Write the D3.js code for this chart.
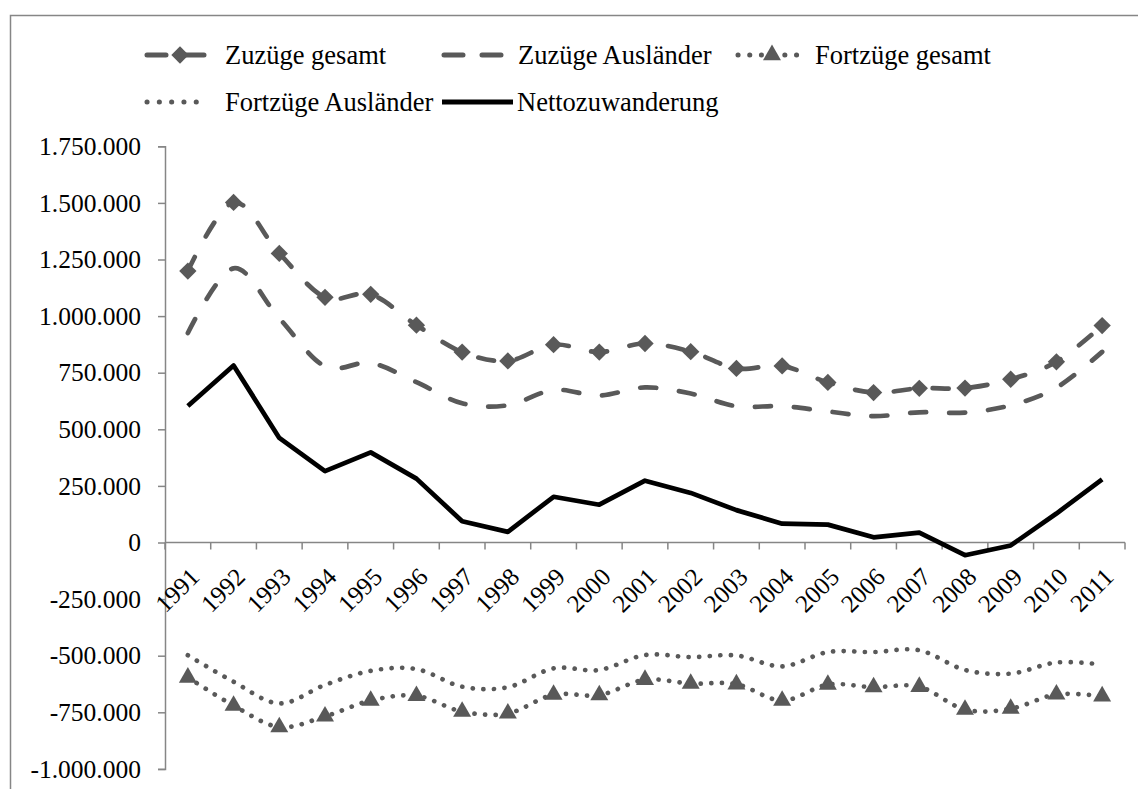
<!DOCTYPE html>
<html>
<head>
<meta charset="utf-8">
<script src="https://cdn.jsdelivr.net/npm/d3@7"></script>
<style>
  html, body { margin: 0; padding: 0; background: #fff; }
  svg { display: block; }
  svg text { font-family: "Liberation Serif", "Times New Roman", serif; }
</style>
</head>
<body>
<svg id="chart" width="1138" height="789"></svg>
<script>
// data
var years = ["1991","1992","1993","1994","1995","1996","1997","1998","1999","2000","2001",
             "2002","2003","2004","2005","2006","2007","2008","2009","2010","2011"];

var zuzuegeGesamt = [1199000, 1502000, 1277000, 1083000, 1096000, 960000, 841000, 802000, 874000, 841000, 879000,
                     843000, 769000, 780000, 707000, 662000, 681000, 682000, 721000, 798000, 958000];
var zuzuegeAuslaender = [925000, 1211000, 990000, 778000, 793000, 708000, 615000, 606000, 674000, 649000, 685000,
                         658000, 602000, 602000, 579000, 558000, 575000, 574000, 606000, 684000, 842000];
var fortzuegeGesamt = [-596000, -720000, -815000, -768000, -698000, -677000, -747000, -755000, -672000, -674000, -606000,
                       -623000, -626000, -698000, -628000, -639000, -637000, -738000, -734000, -671000, -679000];
var fortzuegeAuslaender = [-498000, -615000, -711000, -629000, -567000, -559000, -637000, -639000, -556000, -563000, -497000,
                           -506000, -499000, -547000, -484000, -484000, -476000, -563000, -579000, -530000, -539000];
var netto = [603000, 782000, 462000, 315000, 398000, 282000, 94000, 47000, 202000, 167000, 273000,
             219000, 143000, 83000, 79000, 23000, 44000, -56000, -13000, 128000, 279000];

var yTicks = [-1000000, -750000, -500000, -250000, 0, 250000, 500000, 750000, 1000000, 1250000, 1500000, 1750000];

var grey = "#595959", axisGrey = "#868686";

var series = [
  { name: "Zuzüge gesamt", values: zuzuegeGesamt, color: grey, dash: "16,23", marker: "diamond", smooth: true },
  { name: "Zuzüge Ausländer", values: zuzuegeAuslaender, color: grey, dash: "16,23", marker: null, smooth: true },
  { name: "Fortzüge gesamt", values: fortzuegeGesamt, color: grey, dash: "0.1,10.5", marker: "triangle", smooth: true },
  { name: "Fortzüge Ausländer", values: fortzuegeAuslaender, color: grey, dash: "0.1,10.5", marker: null, smooth: true },
  { name: "Nettozuwanderung", values: netto, color: "#000", dash: null, marker: null, smooth: false }
];

var svg = d3.select("#chart"),
    plotLeft = 165, plotRight = 1125, plotTop = 146.3, plotBottom = 768.9;

// outer frame
svg.append("rect")
    .attr("x", 10.5).attr("y", 15.5)
    .attr("width", 1200).attr("height", 900)
    .attr("fill", "none").attr("stroke", axisGrey).attr("stroke-width", 1.5);

var x = d3.scaleBand().domain(years).range([plotLeft, plotRight]);
var y = d3.scaleLinear().domain([-1000000, 1750000]).range([plotBottom, plotTop]);

var fmt = function(v) {
  return d3.format(",")(v).replace(/,/g, ".").replace("−", "-");
};

// y axis
var yAxis = svg.append("g")
    .attr("transform", "translate(" + plotLeft + ",0)")
    .call(d3.axisLeft(y).tickValues(yTicks).tickSize(7).tickPadding(17).tickFormat(fmt))
    .attr("font-family", null).attr("font-size", 25.5);
yAxis.selectAll("line, path").attr("stroke", axisGrey).attr("stroke-width", 1.5);
yAxis.selectAll("text").attr("fill", "#000");

// x axis at zero, ticks between categories
var xAxis = svg.append("g").attr("transform", "translate(0," + y(0) + ")");
xAxis.append("line")
    .attr("x1", plotLeft).attr("x2", plotRight)
    .attr("stroke", axisGrey).attr("stroke-width", 1.5);
xAxis.selectAll(".tk")
  .data(years.concat(["end"]))
  .enter().append("line")
    .attr("x1", function(d, i) { return plotLeft + i * x.step(); })
    .attr("x2", function(d, i) { return plotLeft + i * x.step(); })
    .attr("y1", 0).attr("y2", 7)
    .attr("stroke", axisGrey).attr("stroke-width", 1.5);
xAxis.selectAll("text")
  .data(years)
  .enter().append("text")
    .attr("transform", function(d) {
      return "translate(" + (x(d) + x.bandwidth() / 2 + 13) + ",36) rotate(-45)";
    })
    .attr("text-anchor", "end")
    .attr("font-size", 25)
    .text(function(d) { return d; });

var cx = function(d, i) { return x(years[i]) + x.bandwidth() / 2; };

var diamond = d3.symbol(d3.symbolSquare, 150)();
var triangle = d3.symbol(d3.symbolTriangle, 140)();

// lines
series.forEach(function(s) {
  var line = d3.line()
      .x(cx)
      .y(function(d) { return y(d); })
      .curve(s.smooth ? d3.curveCardinal.tension(0) : d3.curveLinear);

  svg.append("path")
      .datum(s.values)
      .attr("d", line)
      .attr("fill", "none")
      .attr("stroke", s.color)
      .attr("stroke-width", 4.7)
      .attr("stroke-linecap", s.dash ? "round" : "butt")
      .attr("stroke-linejoin", "round")
      .attr("stroke-dasharray", s.dash);

  if (s.marker) {
    svg.append("g").selectAll("path")
      .data(s.values)
      .enter().append("path")
        .attr("d", s.marker == "diamond" ? diamond : triangle)
        .attr("transform", function(d, i) {
          return "translate(" + cx(d, i) + "," + y(d) + ")" + (s.marker == "diamond" ? " rotate(45)" : "");
        })
        .attr("fill", s.color);
  }
});

// legend
var legendItems = [
  { s: series[0], x0: 147, x1: 207, mx: 180, tx: 225, y: 55, dash: "19,19" },
  { s: series[1], x0: 444, x1: 503, tx: 518, y: 55, dash: "19,19" },
  { s: series[2], x0: 738, x1: 798, mx: 772, tx: 815, y: 55, dash: "0.1,11.6" },
  { s: series[3], x0: 147, x1: 208, tx: 225, y: 102, dash: "0.1,12.2" },
  { s: series[4], x0: 442, x1: 513, tx: 517, y: 102, dash: null }
];

var legend = svg.append("g").selectAll("g")
  .data(legendItems)
  .enter().append("g");

legend.append("line")
    .attr("x1", function(d) { return d.x0; })
    .attr("x2", function(d) { return d.x1; })
    .attr("y1", function(d) { return d.y; })
    .attr("y2", function(d) { return d.y; })
    .attr("stroke", function(d) { return d.s.color; })
    .attr("stroke-width", 5)
    .attr("stroke-linecap", function(d) { return d.dash ? "round" : "butt"; })
    .attr("stroke-dasharray", function(d) { return d.dash; });

legend.filter(function(d) { return d.s.marker; })
  .append("path")
    .attr("d", function(d) { return d.s.marker == "diamond" ? diamond : triangle; })
    .attr("transform", function(d) {
      return "translate(" + d.mx + "," + d.y + ")" + (d.s.marker == "diamond" ? " rotate(45)" : "");
    })
    .attr("fill", function(d) { return d.s.color; });

legend.append("text")
    .attr("x", function(d) { return d.tx; })
    .attr("y", function(d) { return d.y; })
    .attr("dy", "0.33em")
    .attr("font-size", 26.5)
    .text(function(d) { return d.s.name; });
</script>
</body>
</html>
